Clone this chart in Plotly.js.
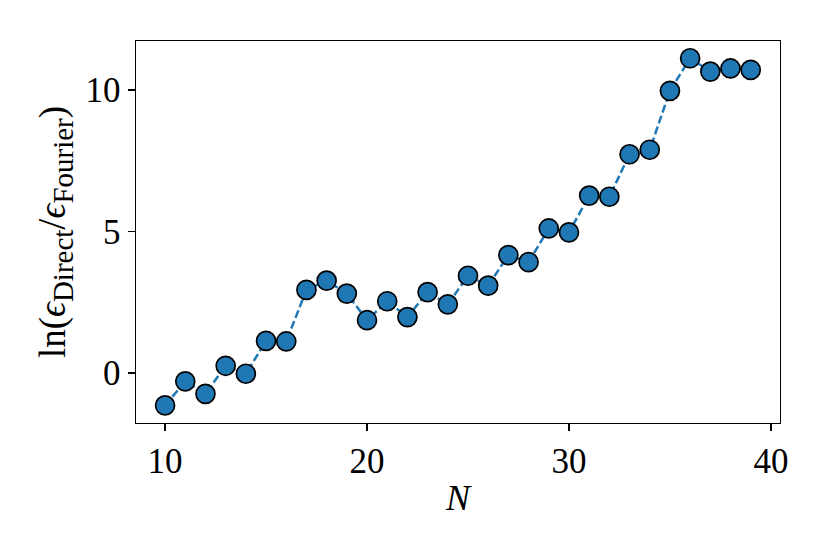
<!DOCTYPE html>
<html>
<head>
<meta charset="utf-8">
<script src="https://cdn.plot.ly/plotly-3.0.1.min.js"></script>
<style>html,body{margin:0;padding:0;background:#fff;}#chart{width:830px;height:554px;}</style>
</head>
<body>
<div id="chart"></div>
<script>
const N = [10,11,12,13,14,15,16,17,18,19,20,21,22,23,24,25,26,27,28,29,30,31,32,33,34,35,36,37,38,39];
const lnRatio = [-1.14,-0.29,-0.73,0.26,-0.02,1.14,1.12,2.94,3.27,2.81,1.87,2.54,1.98,2.86,2.43,3.44,3.09,4.17,3.92,5.11,4.97,6.27,6.23,7.73,7.89,9.97,11.12,10.65,10.76,10.71];
const xTicks = [10,20,30,40];
const yTicks = [0,5,10];

const fontFam = '"Liberation Serif", "DejaVu Serif", serif';

const trace = {
  x: N, y: lnRatio,
  type: 'scatter', mode: 'lines+markers',
  line: {color: '#1f77b4', width: 2.5, dash: '8px,3.5px'},
  marker: {size: 19, color: '#1f77b4', line: {color: '#000', width: 1.7}},
  hoverinfo: 'skip'
};

const axisCommon = {
  showgrid: false, zeroline: false,
  showline: true, linecolor: '#000', linewidth: 1.4, mirror: true,
  ticks: 'outside', ticklen: 7, tickwidth: 1.4, tickcolor: '#000',
  tickfont: {family: fontFam, size: 35, color: '#000'}
};

const layout = {
  width: 830, height: 554,
  margin: {l: 136, r: 50, t: 41, b: 131},
  paper_bgcolor: '#fff', plot_bgcolor: '#fff',
  showlegend: false,
  xaxis: Object.assign({}, axisCommon, {
    range: [8.56, 40.45], tickvals: xTicks, ticktext: xTicks.map(String),
    title: {text: '<i>N</i>', font: {family: fontFam, size: 36, color: '#000'}, standoff: 4}
  }),
  yaxis: Object.assign({}, axisCommon, {
    range: [-1.76, 11.73], tickvals: yTicks, ticktext: yTicks.map(String),
    title: {text: 'ln(<i>ϵ</i><sub><span style="font-size:29px">Direct</span></sub><span style="font-size:40px">/</span><i>ϵ</i><sub><span style="font-size:29px">Fourier</span></sub>)', font: {family: fontFam, size: 37, color: '#000'}, standoff: 8}
  })
};

Plotly.newPlot('chart', [trace], layout, {displayModeBar: false, staticPlot: true});
</script>
</body>
</html>
